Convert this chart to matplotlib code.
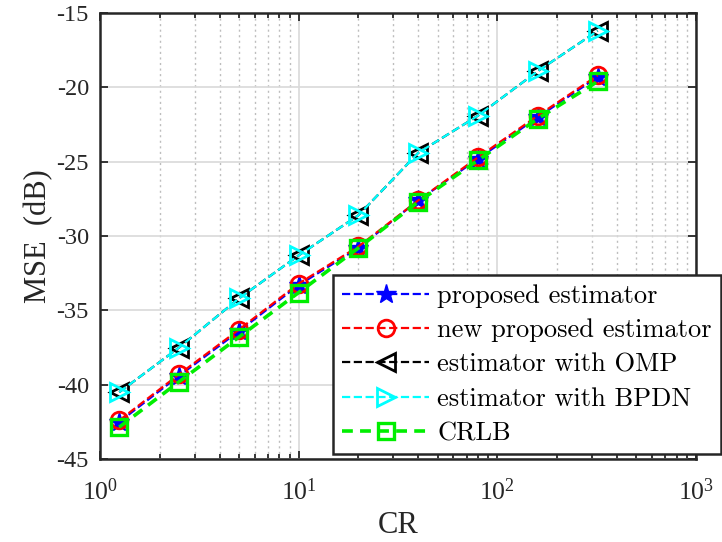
import numpy as np
import matplotlib
matplotlib.use("Agg")
import matplotlib.pyplot as plt
from matplotlib.ticker import LogLocator, NullFormatter, FixedLocator

plt.rcParams["font.family"] = ["Liberation Serif", "DejaVu Serif"]
plt.rcParams["mathtext.fontset"] = "custom"
plt.rcParams["mathtext.rm"] = "Liberation Serif"
plt.rcParams["mathtext.it"] = "Liberation Serif:italic"
plt.rcParams["axes.unicode_minus"] = False

# compression ratio and MSE (dB) for each estimator
cr = [1.25, 2.5, 5, 10, 20, 40, 80, 160, 320]
mse_proposed = [-42.5, -39.4, -36.4, -33.3, -30.8, -27.6, -24.8, -22.0, -19.3]
mse_new = [-42.4, -39.3, -36.3, -33.2, -30.7, -27.6, -24.7, -21.9, -19.2]
mse_omp = [-40.5, -37.5, -34.2, -31.3, -28.6, -24.4, -21.9, -18.9, -16.2]
mse_bpdn = [-40.5, -37.5, -34.2, -31.3, -28.6, -24.4, -21.9, -18.9, -16.2]
mse_crlb = [-42.85, -39.8, -36.8, -33.8, -30.8, -27.7, -24.9, -22.1, -19.6]

labels = ["proposed estimator", "new proposed estimator",
          "estimator with OMP", "estimator with BPDN", "CRLB"]

fig = plt.figure(figsize=(7.22, 5.42), dpi=100)
ax = fig.add_axes([0.1385, 0.153, 0.8255, 0.823])

ax.semilogx(cr, mse_proposed, "--", color="blue", marker="*", ms=15,
            mfc="blue", mec="blue", lw=1.6, label=labels[0])
ax.semilogx(cr, mse_new, "--", color="red", marker="o", ms=12,
            mfc="none", mec="red", mew=2, lw=1.6, label=labels[1])
ax.semilogx(cr, mse_omp, "--", color="black", marker="<", ms=13,
            mfc="none", mec="black", mew=2, lw=1.6, label=labels[2])
ax.semilogx(cr, mse_bpdn, "--", color="cyan", marker=">", ms=13,
            mfc="none", mec="cyan", mew=2, lw=1.6, label=labels[3])
ax.semilogx(cr, mse_crlb, "--", color="#00ee00", marker="s", ms=11,
            mfc="none", mec="#00ee00", mew=2.4, lw=2.6, dashes=(3, 2),
            label=labels[4])

ax.set_xlim(1, 1000)
ax.set_ylim(-45, -15)
ax.yaxis.set_major_locator(FixedLocator(np.arange(-45, -14, 5)))
ax.xaxis.set_major_locator(LogLocator(base=10, numticks=10))
ax.xaxis.set_minor_locator(LogLocator(base=10, subs=np.arange(2, 10), numticks=20))
ax.xaxis.set_minor_formatter(NullFormatter())

ax.grid(True, which="major", color="#d9d9d9", lw=1.2, ls="-")
ax.grid(True, which="minor", axis="x", color="#bdbdbd", lw=1.0, ls=(0, (1.5, 2.5)))
ax.set_axisbelow(True)

ax.tick_params(which="both", direction="in", top=True, right=True,
               labelsize=17.5, width=1.3, colors="#262626")
ax.tick_params(which="major", length=6)
ax.tick_params(axis="y", which="major", pad=8)
ax.tick_params(axis="x", which="major", pad=14, labelsize=18.5)
ax.tick_params(which="minor", length=3.5)
for s in ax.spines.values():
    s.set_linewidth(1.8)
    s.set_color("#262626")

ax.set_xlabel("CR", fontsize=22, color="#262626", labelpad=4)
ax.set_ylabel("MSE  (dB)", fontsize=22, color="#262626", labelpad=2)

leg = ax.legend(loc="upper right", bbox_to_anchor=(721 / 722, 1 - 275 / 542),
                bbox_transform=fig.transFigure,
                prop={"family": "cmr10", "size": 19}, handlelength=3.3,
                handletextpad=0.3, borderpad=0.35, borderaxespad=0,
                labelspacing=0.4, fancybox=False, framealpha=1,
                edgecolor="#262626")
leg.get_frame().set_linewidth(1.8)

fig.savefig("out.png", dpi=100)
